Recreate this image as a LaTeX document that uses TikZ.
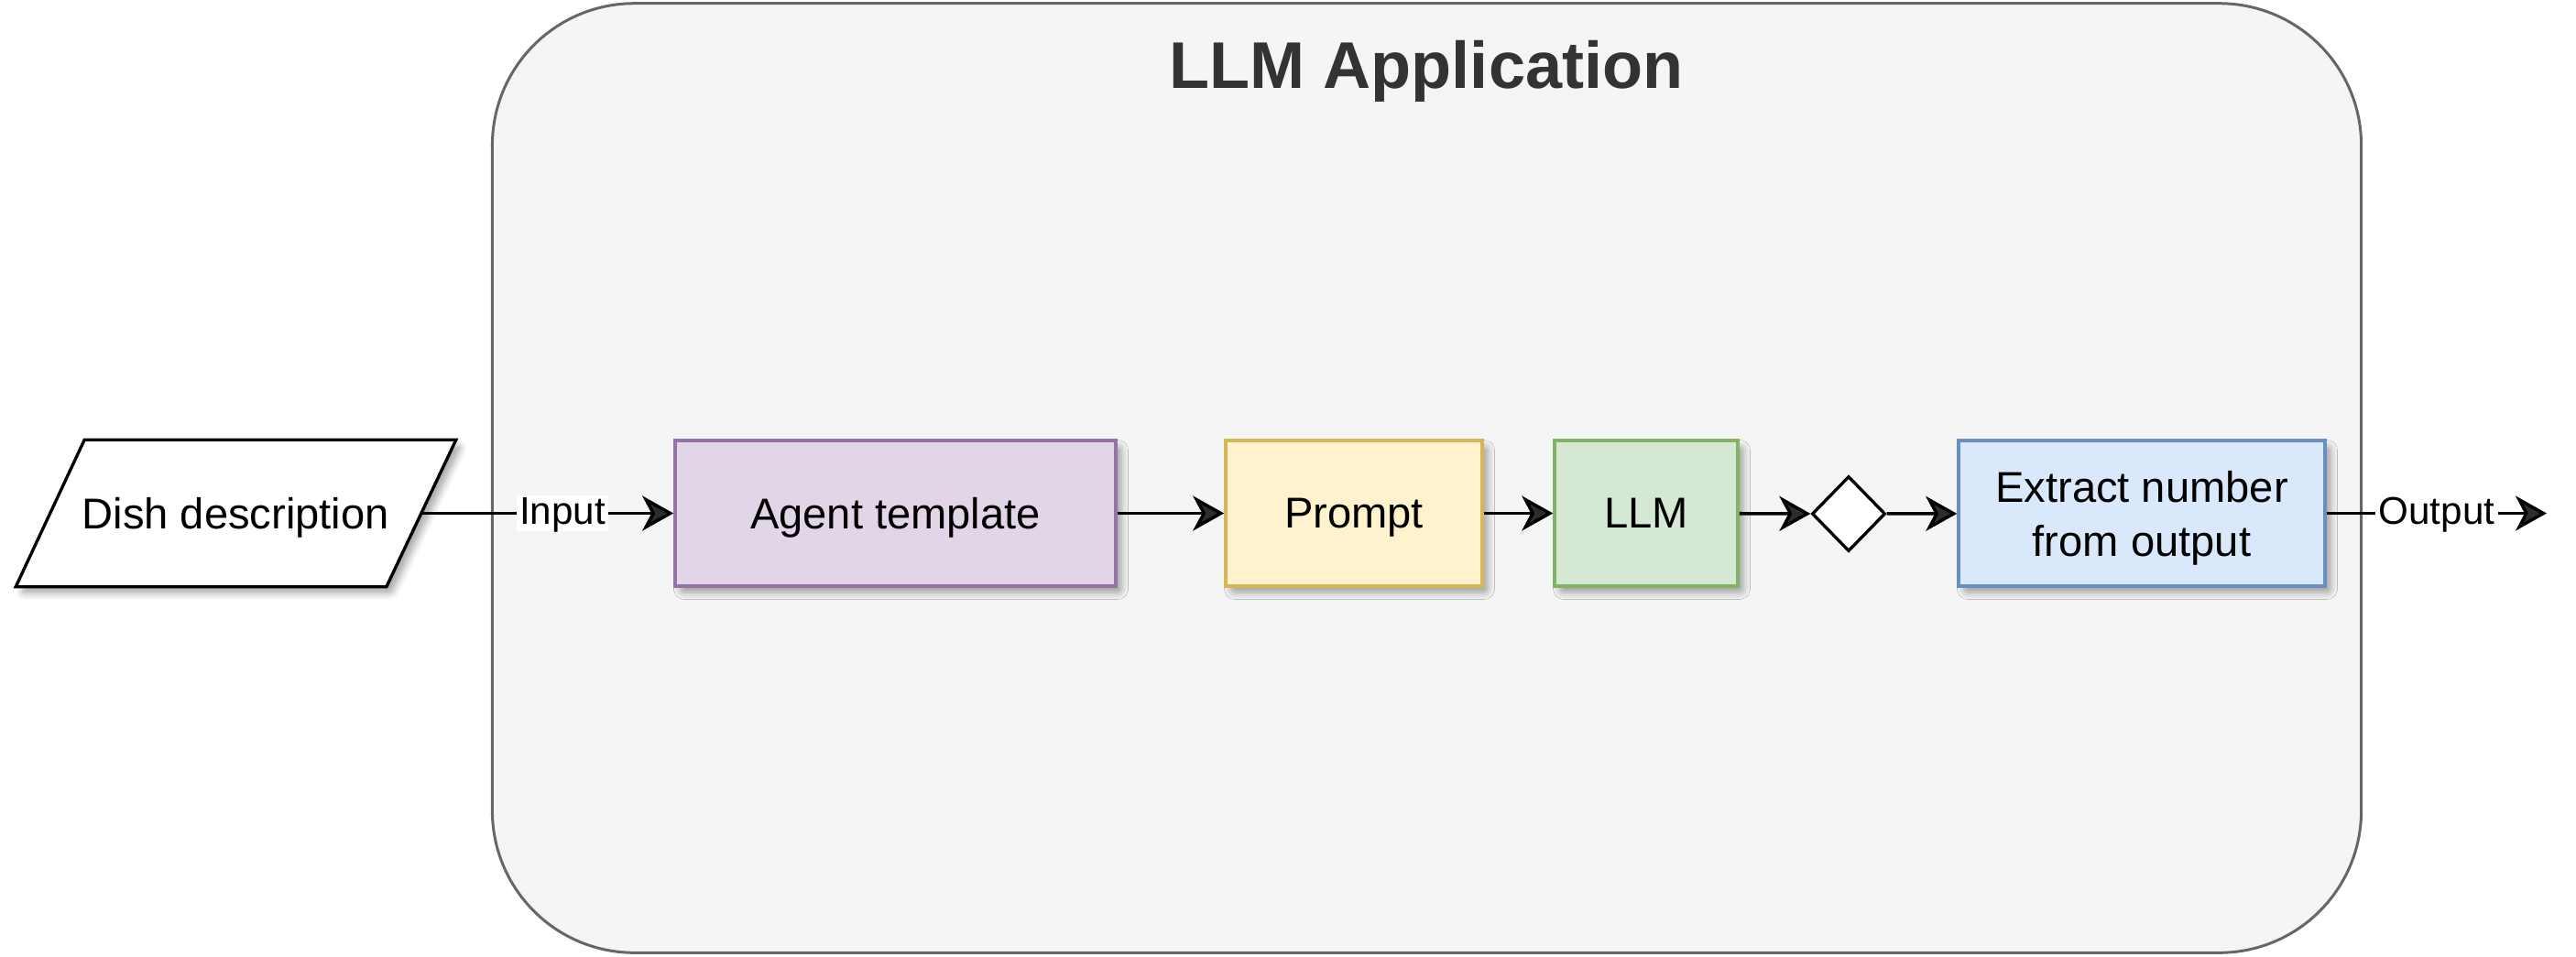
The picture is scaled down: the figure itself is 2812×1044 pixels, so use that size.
\documentclass[tikz,border=0pt]{standalone}
\usepackage{fontspec}
\setmainfont{Liberation Sans}
\usetikzlibrary{shapes.geometric,arrows.meta,shadows.blur,calc}
\definecolor{contfill}{HTML}{F5F5F5}
\definecolor{contline}{HTML}{666666}
\definecolor{titlecol}{HTML}{333333}
\definecolor{purfill}{HTML}{E1D5E7}
\definecolor{purline}{HTML}{9673A6}
\definecolor{yelfill}{HTML}{FFF2CC}
\definecolor{yelline}{HTML}{D6B656}
\definecolor{grnfill}{HTML}{D5E8D4}
\definecolor{grnline}{HTML}{82B366}
\definecolor{blufill}{HTML}{DAE8FC}
\definecolor{bluline}{HTML}{6C8EBF}
\begin{document}
\begin{tikzpicture}[x=0.01cm,y=-0.01cm,
  shad/.style={blur shadow={shadow xshift=0.06cm, shadow yshift=-0.07cm, shadow blur steps=6, shadow blur extra rounding=0.04cm, shadow opacity=35}},
  txt/.style={font=\fontsize{13.4}{16.8}\selectfont, text depth=0pt},
  box/.style={draw, line width=0.95pt, minimum height=1.59cm, inner sep=0pt, align=center, txt, shad},
  arr/.style={line width=1pt, -{Stealth[length=0.34cm,width=0.38cm,inset=0.1cm]}},
  lbl/.style={fill=white, inner xsep=1pt, inner ysep=0pt, text height=0.9em, text depth=0.2em, font=\fontsize{12}{14}\selectfont}]
\useasboundingbox (0,0) rectangle (2812,1044);
\node[draw=contline, fill=contfill, line width=0.85pt, rounded corners=1.55cm,
  minimum width=20.39cm, minimum height=10.36cm, inner sep=0pt] (app) at (1557.5,522) {};
\node[anchor=base, text=titlecol, font=\fontsize{20.5}{24}\selectfont\bfseries] (title) at (1557,96) {LLM Application};
\node[minimum width=4.035cm, minimum height=1.59cm, inner sep=0pt, txt] (dish) at (257.25,560.5) {};
\draw[fill=white, line width=0.95pt, shad]
  ($(dish.north west)+(37.5,0)$) -- ($(dish.north east)+(38,0)$) --
  ($(dish.south east)+(-38,0)$) -- ($(dish.south west)+(-37.5,0)$) -- cycle;
\node[txt] (dishtext) at (dish.center) {Dish description};
\node[box, fill=purfill, draw=purline, minimum width=4.81cm] (agent) at (977.5,560.5) {Agent template};
\node[box, fill=yelfill, draw=yelline, minimum width=2.80cm] (prompt) at (1478,560.5) {Prompt};
\node[box, fill=grnfill, draw=grnline, minimum width=2.00cm] (llm) at (1797,560.5) {LLM};
\node[draw, fill=white, line width=0.95pt, diamond, minimum width=0.80cm, minimum height=0.82cm, inner sep=0pt] (dia) at (2018,561) {};
\node[box, fill=blufill, draw=bluline, minimum width=4.00cm] (extract) at (2338,560.5) {Extract number\\from output};
\coordinate (outend) at (2780,560.5);
\draw[arr] (dish.east) -- node[lbl, pos=0.56] {Input} (agent.west);
\draw[arr] (agent) -- (prompt);
\draw[arr] (prompt) -- (llm);
\draw[arr] (llm) -- (dia);
\draw[arr] (dia) -- (extract);
\draw[arr] (extract) -- node[lbl] {Output} (outend);
\end{tikzpicture}
\end{document}
